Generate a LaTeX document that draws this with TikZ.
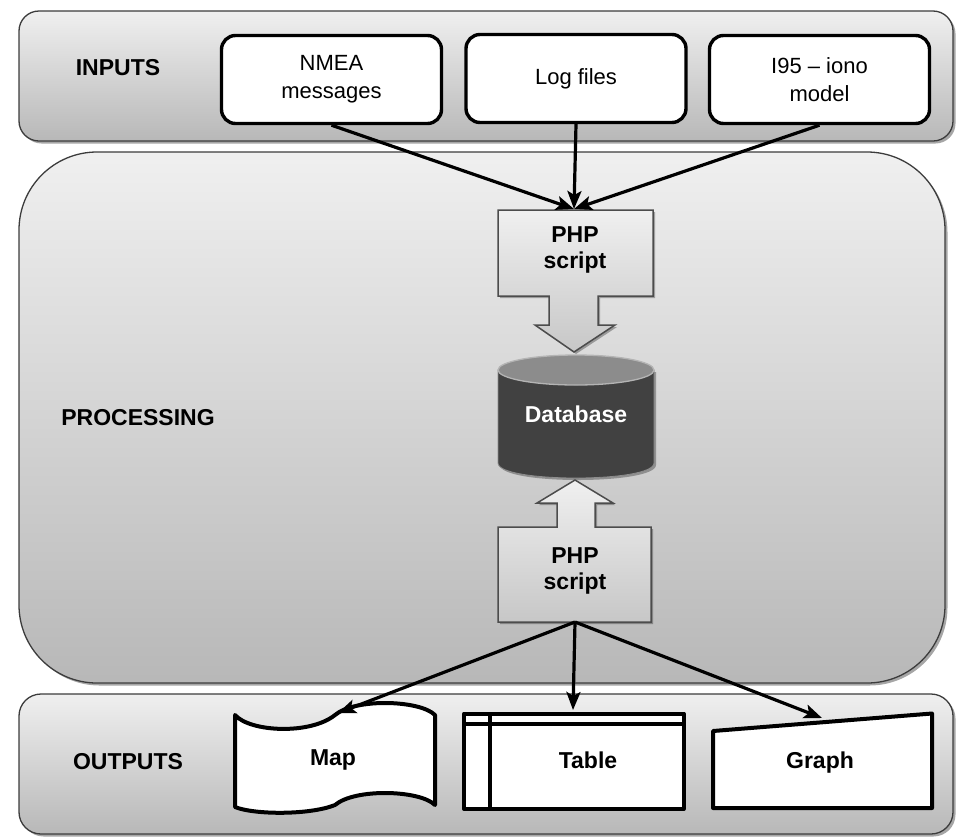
\documentclass[tikz,border=0pt]{standalone}
\usepackage{fontspec}
\setmainfont{Liberation Sans}
\usetikzlibrary{arrows.meta,shadows}

\definecolor{panelline}{HTML}{3C3C3C}
\definecolor{dbbody}{HTML}{414141}
\definecolor{dbtop}{HTML}{8C8C8C}
\definecolor{dbrim}{HTML}{B4B4B4}

\begin{document}
\begin{tikzpicture}[x=1pt,y=-1pt,
  panel/.style={draw=panelline, line width=1.3pt, top color=black!6, bottom color=black!28,
    drop shadow={shadow xshift=2.5pt, shadow yshift=-2.5pt, opacity=0.35, fill=black}},
  phpshape/.style={draw=black!70, line width=1.5pt, top color=black!6, bottom color=black!22,
    drop shadow={shadow xshift=2pt, shadow yshift=-2pt, opacity=0.3, fill=black}},
  inbox/.style={draw=black, line width=3.4pt, fill=white, rounded corners=14pt,
    minimum width=220pt, minimum height=88pt, align=center, inner sep=0pt,
    font=\fontsize{22}{28}\selectfont},
  outshape/.style={draw=black, line width=4pt, fill=white, line join=round},
  bold/.style={font=\fontsize{23}{26}\selectfont\bfseries, align=center, inner sep=0pt},
  arr/.style={line width=3.2pt, -{Stealth[length=18pt,width=14pt,inset=4pt]}}
]
\useasboundingbox (0,0) rectangle (957,836);
\fill[white] (0,0) rectangle (957,836);

% background panels
\path[panel, rounded corners=78pt] (19,152) rectangle (945,683);
\path[panel, rounded corners=20pt] (19,11) rectangle (953,141);
\path[panel, rounded corners=22pt] (19,694) rectangle (953,834);

% panel titles
\node[bold] (inputs) at (118,68) {INPUTS};
\node[bold] (processing) at (138,418) {PROCESSING};
\node[bold] (outputs) at (128,762) {OUTPUTS};

% input sources
\node[inbox] (nmea) at (331.5,79.5) {NMEA\\messages};
\node[inbox] (logs) at (576,78.5) {Log files};
\node[inbox] (iono) at (819.5,79.5) {I95 -- iono\\model};

% upper script box with its arrow down to the database
\path[phpshape] (498,210) -- (653,210) -- (653,296) -- (598,296) -- (598,325)
  -- (615,325) -- (574,352) -- (535,325) -- (549,325) -- (549,296) -- (498,296) -- cycle;
\node[bold] (php1) at (575,250) {PHP\\script};
\coordinate (phpin) at (574,209);

% database cylinder
\path[fill=dbbody, draw=black!45, line width=0.8pt,
  drop shadow={shadow xshift=2pt, shadow yshift=-2pt, opacity=0.3, fill=black}]
  (498,370) -- (498,463) .. controls (498,483) and (654,483) .. (654,463) -- (654,370) -- cycle;
\draw[fill=dbtop, draw=dbrim, line width=1.3pt] (576,370) ellipse [x radius=78, y radius=15];
\node[bold, text=white] (db) at (576,414) {Database};

% lower script box with its arrow up to the database
\path[phpshape] (498,622) -- (651,622) -- (651,527) -- (595,527) -- (595,503)
  -- (613,503) -- (575,480) -- (537,503) -- (557,503) -- (557,527) -- (498,527) -- cycle;
\node[bold] (php2) at (575,571) {PHP\\script};
\coordinate (phpout) at (575,622);

% inputs feed the upper script
\draw[arr] (nmea.south) -- (phpin);
\draw[arr] (logs.south) -- (phpin);
\draw[arr] (iono.south) -- (phpin);

% output shapes
\draw[outshape] (235,715) .. controls (250,732) and (310,735) .. (335,715)
  .. controls (355,698) and (420,700) .. (435,715) -- (435,805)
  .. controls (420,790) and (355,788) .. (335,805)
  .. controls (310,815) and (255,815) .. (235,807) -- cycle;
\node[bold] (map) at (333,760) {Map};
\coordinate (mapin) at (338,713);

\draw[outshape] (464,713.5) rectangle (683.5,809);
\draw[line width=4pt] (464,723.5) -- (683.5,723.5);
\draw[line width=4pt] (490,713.5) -- (490,809);
\node[bold] (table) at (588,760) {Table};
\coordinate (tablein) at (573,710);

\draw[outshape] (713,731) -- (932,713.5) -- (932,808) -- (713,808) -- cycle;
\node[bold] (graph) at (820,763) {Graph};
\coordinate (graphin) at (822,718);

% lower script feeds the outputs
\draw[arr] (phpout) -- (mapin);
\draw[arr] (phpout) -- (tablein);
\draw[arr] (phpout) -- (graphin);
\end{tikzpicture}
\end{document}
